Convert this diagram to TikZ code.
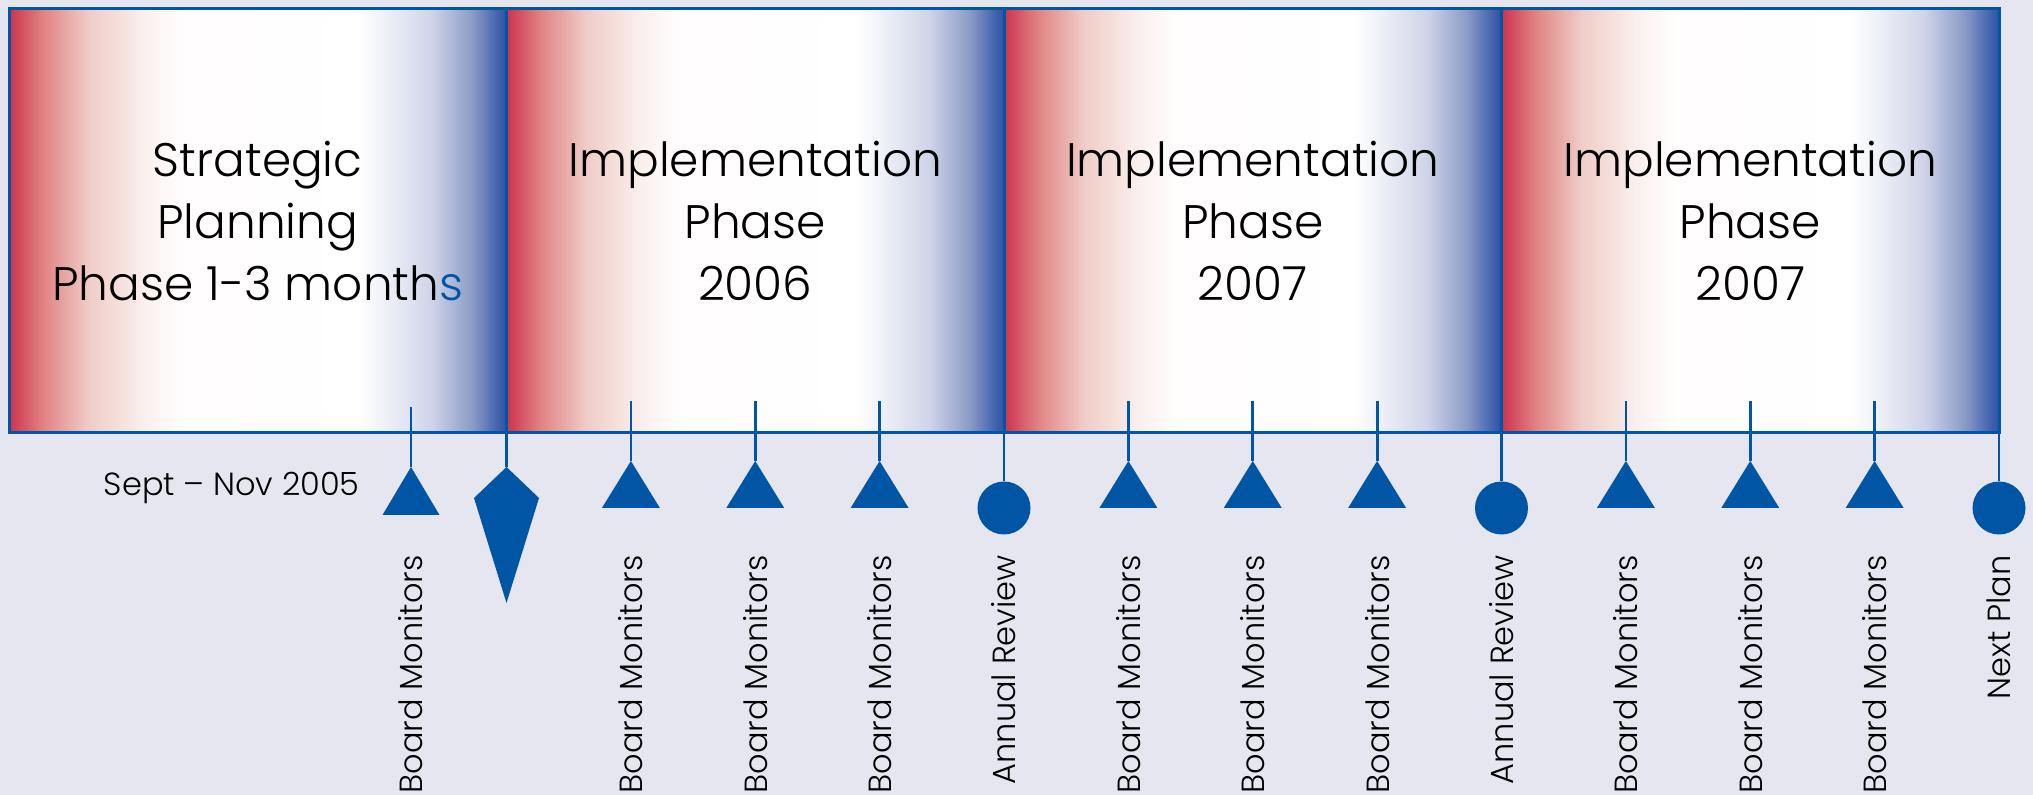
\documentclass[tikz,border=0pt]{standalone}
\usepackage{fontspec}
\setmainfont{Poppins}[UprightFont=* Light]
\usepackage{xcolor}

\definecolor{planblue}{RGB}{0,85,165}
\definecolor{skygrey}{RGB}{230,230,240}

\pgfdeclarehorizontalshading{phaseshade}{100bp}{%
  rgb(0bp)=(0.80,0.20,0.30);
  rgb(25bp)=(0.80,0.20,0.30);
  rgb(28.5bp)=(0.88,0.52,0.52);
  rgb(33bp)=(0.94,0.80,0.78);
  rgb(38.5bp)=(0.98,0.94,0.93);
  rgb(42bp)=(1,0.99,0.99);
  rgb(60bp)=(1,1,1);
  rgb(63bp)=(0.93,0.94,0.97);
  rgb(67.5bp)=(0.81,0.83,0.91);
  rgb(71.5bp)=(0.55,0.61,0.78);
  rgb(74.3bp)=(0.24,0.37,0.67);
  rgb(75bp)=(0.18,0.33,0.65);
  rgb(100bp)=(0.18,0.33,0.65)}

\tikzset{
  phase/.style={draw=planblue, line width=1.5pt, shade, shading=phaseshade,
    minimum width=248.75pt, minimum height=211.75pt, inner sep=0pt,
    align=center, font=\fontsize{23.5}{31}\selectfont},
  tick/.style={draw=planblue, line width=1.4pt},
  dot/.style={circle, fill=planblue, inner sep=0pt, minimum size=26.5pt},
  milestone/.style={rotate=90, anchor=east, inner sep=0pt,
    font=\fontsize{16}{18}\selectfont},
  datelabel/.style={anchor=east, inner sep=0pt,
    font=\fontsize{16}{18}\selectfont}
}

\begin{document}
\begin{tikzpicture}[x=0.5pt,y=-0.5pt]
        % The background
        \useasboundingbox (0,0) rectangle (2033,795);
        \fill[skygrey] (0,0) rectangle (2033,795);

        % The phase boxes
        \node[phase] (plan) at (257.75,220.75) {Strategic\\Planning\\Phase 1-3 month\textcolor{planblue}{s}};
        \node[phase] (imp06) at (755.25,220.75) {Implementation\\Phase\\2006};
        \node[phase] (imp07a) at (1252.75,220.75) {Implementation\\Phase\\2007};
        \node[phase] (imp07b) at (1750.25,220.75) {Implementation\\Phase\\2007};

        % Tick tops
        \coordinate (top1) at (411,407);
        \coordinate (top2) at (506.5,432.5);
        \coordinate (top3) at (630.9,401);
        \coordinate (top4) at (755.25,401);
        \coordinate (top5) at (879.6,401);
        \coordinate (top6) at (1004,432.5);
        \coordinate (top7) at (1128.4,401);
        \coordinate (top8) at (1252.75,401);
        \coordinate (top9) at (1377.1,401);
        \coordinate (top10) at (1501.5,432.5);
        \coordinate (top11) at (1625.9,401);
        \coordinate (top12) at (1750.25,401);
        \coordinate (top13) at (1874.6,401);
        \coordinate (top14) at (1999,432.5);

        % Marker tips
        \coordinate (tip1) at (411,467);
        \coordinate (tip2) at (506.5,467);
        \coordinate (tip3) at (630.9,461);
        \coordinate (tip4) at (755.25,461);
        \coordinate (tip5) at (879.6,461);
        \coordinate (tip7) at (1128.4,461);
        \coordinate (tip8) at (1252.75,461);
        \coordinate (tip9) at (1377.1,461);
        \coordinate (tip11) at (1625.9,461);
        \coordinate (tip12) at (1750.25,461);
        \coordinate (tip13) at (1874.6,461);

        % Triangles
        \fill[planblue] (tip1) -- ++(28.5,48) -- ++(-57,0) -- cycle;
        \fill[planblue] (tip3) -- ++(29,47) -- ++(-58,0) -- cycle;
        \fill[planblue] (tip4) -- ++(29,47) -- ++(-58,0) -- cycle;
        \fill[planblue] (tip5) -- ++(29,47) -- ++(-58,0) -- cycle;
        \fill[planblue] (tip7) -- ++(29,47) -- ++(-58,0) -- cycle;
        \fill[planblue] (tip8) -- ++(29,47) -- ++(-58,0) -- cycle;
        \fill[planblue] (tip9) -- ++(29,47) -- ++(-58,0) -- cycle;
        \fill[planblue] (tip11) -- ++(29,47) -- ++(-58,0) -- cycle;
        \fill[planblue] (tip12) -- ++(29,47) -- ++(-58,0) -- cycle;
        \fill[planblue] (tip13) -- ++(29,47) -- ++(-58,0) -- cycle;

        % The kite
        \fill[planblue] (tip2) -- (539,498) -- (506.5,603) -- (474,498) -- cycle;

        % Dots
        \node[dot] (review1) at (1004,508) {};
        \node[dot] (review2) at (1501.5,508) {};
        \node[dot] (nextdot) at (1999,508) {};

        % Ticks
        \draw[tick] (top1) -- (tip1);
        \draw[tick] (top2) -- (tip2);
        \draw[tick] (top3) -- (tip3);
        \draw[tick] (top4) -- (tip4);
        \draw[tick] (top5) -- (tip5);
        \draw[tick] (top6) -- (review1.north);
        \draw[tick] (top7) -- (tip7);
        \draw[tick] (top8) -- (tip8);
        \draw[tick] (top9) -- (tip9);
        \draw[tick] (top10) -- (review2.north);
        \draw[tick] (top11) -- (tip11);
        \draw[tick] (top12) -- (tip12);
        \draw[tick] (top13) -- (tip13);
        \draw[tick] (top14) -- (nextdot.north);

        % The labels
        \node[datelabel] (start) at (360,488) {Sept – Nov 2005};
        \node[milestone] (lbl1) at (411,555) {Board Monitors};
        \node[milestone] (lbl3) at (630.9,555) {Board Monitors};
        \node[milestone] (lbl4) at (755.25,555) {Board Monitors};
        \node[milestone] (lbl5) at (879.6,555) {Board Monitors};
        \node[milestone] (lbl6) at (1004,555) {Annual Review};
        \node[milestone] (lbl7) at (1128.4,555) {Board Monitors};
        \node[milestone] (lbl8) at (1252.75,555) {Board Monitors};
        \node[milestone] (lbl9) at (1377.1,555) {Board Monitors};
        \node[milestone] (lbl10) at (1501.5,555) {Annual Review};
        \node[milestone] (lbl11) at (1625.9,555) {Board Monitors};
        \node[milestone] (lbl12) at (1750.25,555) {Board Monitors};
        \node[milestone] (lbl13) at (1874.6,555) {Board Monitors};
        \node[milestone] (lbl14) at (1999,555) {Next Plan};
\end{tikzpicture}
\end{document}
